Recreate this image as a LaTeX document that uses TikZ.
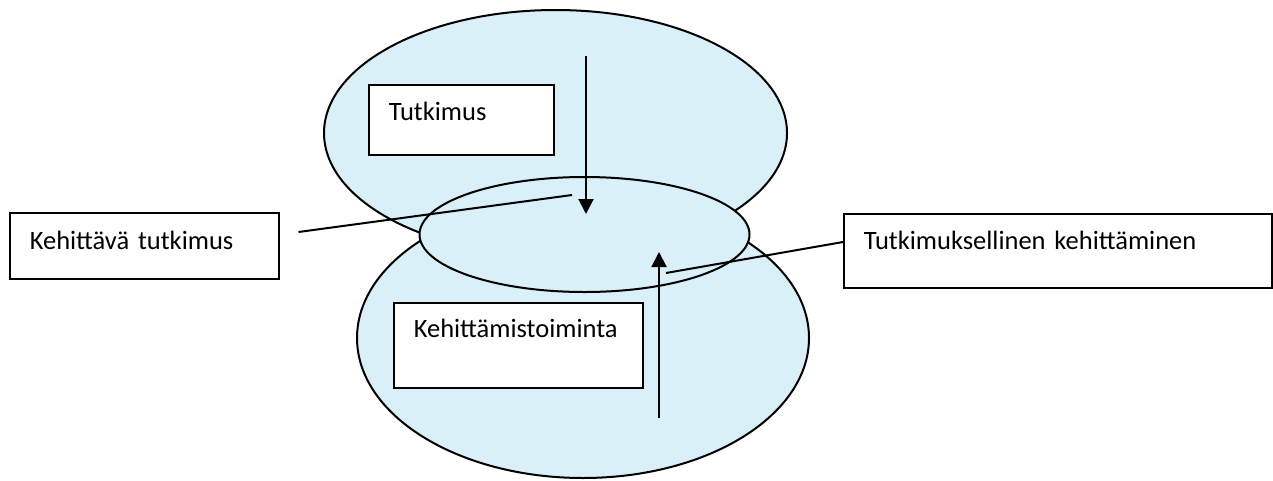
\documentclass[tikz,border=0pt]{standalone}
\usepackage{fontspec}
\setmainfont{Carlito}
\usepackage{xcolor}
\usepackage{tikz}
\usetikzlibrary{arrows.meta}

\definecolor{paleblue}{RGB}{218,240,248}

\begin{document}
\begin{tikzpicture}[x=1pt, y=-1pt, >={Triangle[width=15pt,length=15pt]},
        area/.style={draw, line width=2pt, fill=paleblue},
        label box/.style={rectangle, draw, line width=1.5pt, fill=white, inner xsep=20pt,
                          inner ysep=0pt, align=left, anchor=base west,
                          font=\fontsize{26.5}{30}\selectfont},
        link/.style={line width=2pt}]
        \useasboundingbox (0,0) rectangle (1273,480);

        % the two fields and their overlap
        \draw[area] (555.5,133) ellipse [x radius=231.5pt, y radius=123pt];
        \draw[area] (583,338) ellipse [x radius=226pt, y radius=140pt];
        \draw[area] (584.5,234.5) ellipse [x radius=165pt, y radius=57.5pt];

        \node[label box, text width=145pt, text height=35pt, text depth=35pt]  (research) at (368,120) {Tutkimus};
        \node[label box, text width=209pt, text height=34pt, text depth=51pt]  (devwork)  at (393,337) {Kehittämistoiminta};
        \node[label box, text width=229pt, text height=36pt, text depth=30pt]  (devres)   at (9,249)   {Kehittävä tutkimus};
        \node[label box, text width=388pt, text height=35pt, text depth=39pt]  (resdev)   at (843,249) {Tutkimuksellinen kehittäminen};

        \coordinate (devres end) at (572,195);
        \coordinate (resdev end) at (666,273);
        \coordinate (down start) at (586,56);
        \coordinate (down end)   at (586,214);
        \coordinate (up start)   at (659,418);
        \coordinate (up end)     at (659,252);

        \draw[link] ([xshift=19pt, yshift=17pt]devres.base east) -- (devres end);
        \draw[link] ([yshift=7pt]resdev.base west) -- (resdev end);
        \draw[link, ->] (down start) -- (down end);
        \draw[link, ->] (up start) -- (up end);
\end{tikzpicture}
\end{document}
